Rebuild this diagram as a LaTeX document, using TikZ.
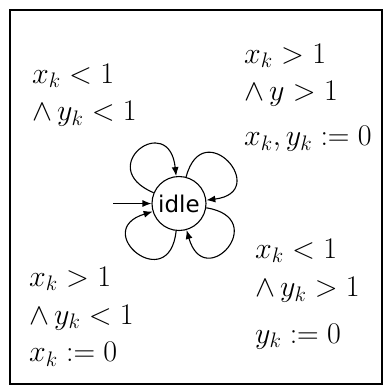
\RequirePackage{fix-cm}
\documentclass[tikz,border=0pt]{standalone}
\usepackage{fontspec}
\newfontfamily\idlefont{DejaVu Sans}
\usetikzlibrary{arrows.meta}
\begin{document}
\begin{tikzpicture}[x=1pt,y=-1pt,
  lbl/.style={anchor=base west,inner sep=0pt,font=\fontsize{30}{36}\selectfont},
  state/.style={circle,draw,line width=1.1pt,minimum size=54pt,inner sep=0pt,font=\idlefont\fontsize{23}{26}\selectfont},
  edge/.style={line width=1.1pt,-{Latex[length=9pt,width=7pt]}}]
\useasboundingbox (0,0) rectangle (383,392);
\draw[line width=2.8pt] (10,10) rectangle (382,384);
\node[state] (idle) at (179,203.5) {idle};
\coordinate (start) at (113,203.5);
\draw[edge] (start) -- (idle.west);
\draw[edge] (idle.157) .. controls +(-157:66) and +(-96:66) .. (idle.96);
\draw[edge] (idle.75) .. controls +(-75:66) and +(-7:66) .. (idle.7);
\draw[edge] (idle.-9) .. controls +(9:66) and +(74:66) .. (idle.-74);
\draw[edge] (idle.-96) .. controls +(96:66) and +(163:66) .. (idle.-163);
\node[lbl] (tl1) at (32,83) {$x_k<1$};
\node[lbl] (tl2) at (32,120.7) {$\land\,y_k<1$};
\node[lbl] (tr1) at (244,63.3) {$x_k>1$};
\node[lbl] (tr2) at (244,100) {$\land\,y>1$};
\node[lbl] (tr3) at (244,145.5) {$x_k,y_k:=0$};
\node[lbl] (bl1) at (29,286) {$x_k>1$};
\node[lbl] (bl2) at (29,324.3) {$\land\,y_k<1$};
\node[lbl] (bl3) at (29,361.7) {$x_k:=0$};
\node[lbl] (br1) at (255,258.3) {$x_k<1$};
\node[lbl] (br2) at (255,296.7) {$\land\,y_k>1$};
\node[lbl] (br3) at (255,343.3) {$y_k:=0$};
\end{tikzpicture}
\end{document}
